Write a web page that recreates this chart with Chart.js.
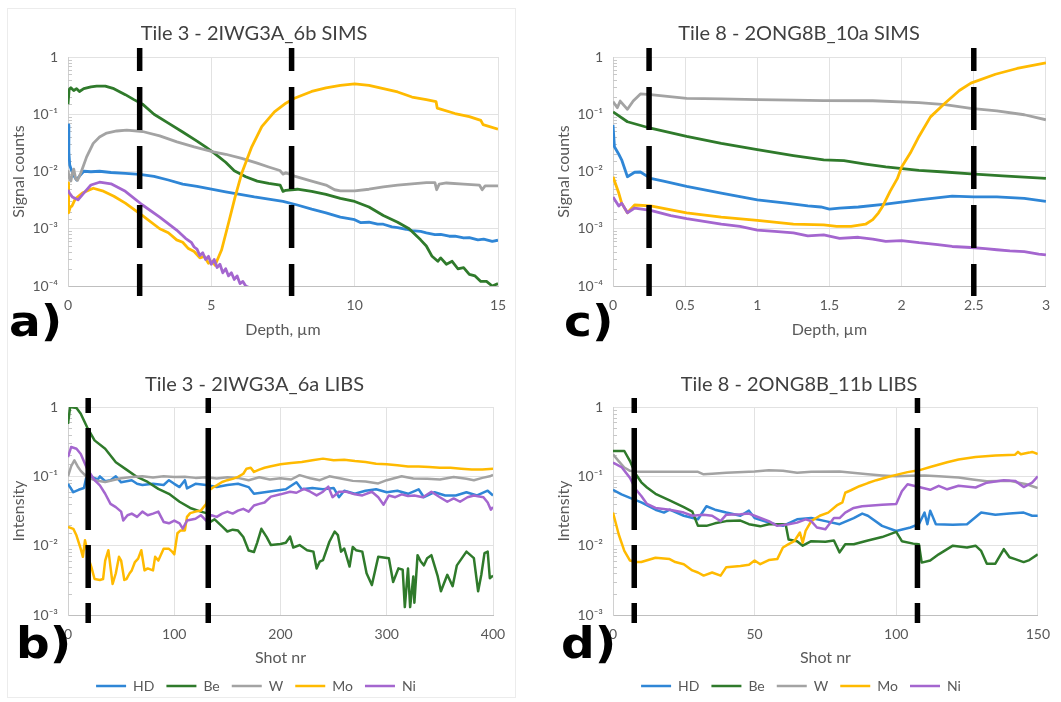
<!DOCTYPE html>
<html>
<head>
<meta charset="utf-8">
<script src="https://cdn.jsdelivr.net/npm/chart.js@4.4.1/dist/chart.umd.min.js"></script>
<style>
  html, body { margin: 0; padding: 0; background: #fff; }
  body { width: 1061px; height: 702px; position: relative; overflow: hidden; }
  .panel { position: absolute; }
  .frame { position: absolute; border: 1px solid #ececec; }
</style>
</head>
<body>
<div class="frame" style="left:7px;top:8px;width:507px;height:688px"></div>
<canvas id="pa" class="panel" width="520" height="350" style="left:0;top:0"></canvas>
<canvas id="pc" class="panel" width="531" height="350" style="left:530px;top:0"></canvas>
<canvas id="pb" class="panel" width="520" height="358" style="left:0;top:345px"></canvas>
<canvas id="pd" class="panel" width="531" height="358" style="left:530px;top:345px"></canvas>
<script>
// Series names and colours shared by all four panels
const elements = ['HD', 'Be', 'W', 'Mo', 'Ni'];
const lineColors = ['#2f86d6', '#2f7a2b', '#a3a3a3', '#ffba00', '#a466cf'];

// Tile 3 - SIMS depth profile: [depth µm, signal counts]
const simsT3_HD = [[0,0.065],[0.03,0.022],[0.06,0.013],[0.12,0.0105],[0.2,0.0085],[0.3,0.0071],[0.4,0.0083],[0.55,0.0101],[0.8,0.0099],[1.1,0.0101],[1.5,0.0096],[2,0.0093],[2.5,0.0089],[3,0.0082],[3.5,0.0071],[4,0.006],[4.5,0.0055],[5,0.0049],[5.5,0.0044],[6,0.004],[6.5,0.0036],[7,0.0033],[7.5,0.003],[8,0.0026],[8.5,0.0022],[9,0.0019],[9.5,0.0016],[9.8,0.0015],[10,0.00144],[10.2,0.00128],[10.5,0.0013],[10.8,0.0012],[11,0.0012],[11.3,0.00108],[11.5,0.00105],[11.8,0.00098],[12,0.00093],[12.3,0.0009],[12.5,0.00085],[12.8,0.00079],[13,0.0008],[13.3,0.00074],[13.5,0.00074],[13.8,0.00069],[14,0.0007],[14.3,0.00064],[14.5,0.00066],[14.8,0.0006],[15,0.00063]];
const simsT3_Be = [[0,0.15],[0.04,0.27],[0.1,0.29],[0.2,0.26],[0.3,0.28],[0.4,0.25],[0.55,0.28],[0.8,0.3],[1,0.31],[1.3,0.31],[1.6,0.28],[2,0.22],[2.3,0.18],[2.6,0.15],[3,0.1],[3.5,0.07],[4,0.049],[4.5,0.034],[4.8,0.027],[5.1,0.021],[5.5,0.0145],[5.8,0.0103],[6.2,0.0081],[6.6,0.0068],[7,0.0062],[7.4,0.0058],[7.5,0.0045],[7.6,0.0047],[8,0.0049],[8.5,0.0045],[9,0.004],[9.5,0.0034],[10,0.003],[10.5,0.0024],[11,0.0017],[11.5,0.0013],[11.9,0.001],[12.3,0.00064],[12.5,0.0005],[12.7,0.00033],[12.9,0.00027],[13,0.00031],[13.2,0.00024],[13.4,0.00027],[13.6,0.0002],[13.8,0.00021],[14,0.00016],[14.2,0.00015],[14.4,0.00012],[14.6,0.00012],[14.8,0.0001],[15,0.00011]];
const simsT3_W = [[0,0.0105],[0.04,0.0078],[0.1,0.0068],[0.16,0.0098],[0.2,0.011],[0.27,0.0074],[0.33,0.007],[0.45,0.0095],[0.65,0.018],[0.88,0.031],[1.1,0.04],[1.35,0.047],[1.7,0.051],[2.05,0.053],[2.6,0.05],[3.2,0.042],[3.8,0.033],[4.4,0.027],[5.07,0.022],[5.5,0.02],[6.06,0.017],[6.6,0.014],[7,0.012],[7.39,0.0104],[7.5,0.009],[7.6,0.0095],[7.9,0.0083],[8.5,0.0068],[9,0.0058],[9.3,0.0048],[9.5,0.0046],[10,0.0046],[10.5,0.0049],[11,0.0054],[11.5,0.0058],[12,0.0061],[12.5,0.0064],[12.8,0.0064],[12.86,0.0048],[12.95,0.006],[13.2,0.0063],[13.8,0.006],[14.35,0.0058],[14.45,0.0048],[14.55,0.0056],[15,0.0056]];
const simsT3_Mo = [[0,0.0063],[0.02,0.0019],[0.08,0.0024],[0.14,0.0025],[0.25,0.0033],[0.5,0.0042],[0.88,0.0051],[1.2,0.0046],[1.6,0.0037],[2,0.0028],[2.6,0.0017],[3.2,0.001],[3.5,0.00085],[3.79,0.00064],[4,0.00058],[4.2,0.00045],[4.4,0.0004],[4.6,0.00031],[4.75,0.00033],[4.9,0.00025],[5.05,0.00027],[5.13,0.00023],[5.36,0.00043],[5.6,0.00126],[5.83,0.0036],[6.06,0.0093],[6.41,0.027],[6.76,0.061],[7.2,0.11],[7.6,0.156],[7.9,0.19],[8.5,0.25],[9,0.29],[9.5,0.32],[10,0.34],[10.5,0.32],[11,0.28],[11.5,0.245],[12,0.2],[12.5,0.18],[12.84,0.166],[12.88,0.128],[13.5,0.103],[14,0.091],[14.4,0.078],[14.48,0.066],[15,0.055]];
const simsT3_Ni = [[0,0.0048],[0.05,0.0042],[0.15,0.0036],[0.35,0.0032],[0.55,0.0042],[0.8,0.0058],[1.1,0.0065],[1.5,0.0061],[2,0.0045],[2.6,0.0026],[3.2,0.0016],[3.79,0.00095],[4.1,0.00068],[4.3,0.00058],[4.4,0.00048],[4.5,0.00044],[4.6,0.00034],[4.7,0.00038],[4.8,0.00029],[4.9,0.00033],[5,0.00024],[5.1,0.00029],[5.2,0.00021],[5.3,0.00024],[5.4,0.00017],[5.5,0.0002],[5.6,0.00015],[5.7,0.00017],[5.8,0.00013],[5.9,0.00015],[6,0.00011],[6.1,0.00012],[6.2,0.0001],[6.4,0.00009]];
const simsT3_bounds = [2.5, 7.8];

// Tile 8 - SIMS depth profile: [depth µm, signal counts]
const simsT8_HD = [[0,0.065],[0.01,0.027],[0.04,0.02],[0.06,0.016],[0.1,0.0081],[0.15,0.0097],[0.19,0.0098],[0.26,0.0076],[0.35,0.0068],[0.51,0.0055],[0.75,0.0042],[1,0.0032],[1.2,0.0028],[1.35,0.0025],[1.44,0.0024],[1.5,0.0022],[1.57,0.0023],[1.7,0.0024],[1.89,0.0027],[2.12,0.0032],[2.35,0.0037],[2.5,0.0036],[2.66,0.0036],[2.85,0.0034],[3,0.003]];
const simsT8_Be = [[0,0.11],[0.1,0.074],[0.26,0.057],[0.51,0.041],[0.75,0.031],[1,0.024],[1.25,0.019],[1.46,0.016],[1.6,0.0155],[1.75,0.0135],[1.89,0.012],[2.12,0.0105],[2.3,0.0098],[2.48,0.0091],[2.7,0.0084],[3,0.0076]];
const simsT8_W = [[0,0.166],[0.03,0.13],[0.05,0.17],[0.1,0.122],[0.14,0.17],[0.19,0.226],[0.26,0.22],[0.51,0.19],[0.75,0.185],[1,0.18],[1.25,0.176],[1.46,0.173],[1.8,0.172],[2.12,0.16],[2.3,0.147],[2.48,0.127],[2.66,0.115],[2.85,0.098],[3,0.08]];
const simsT8_Mo = [[0,0.0081],[0.04,0.0042],[0.06,0.0028],[0.1,0.0019],[0.15,0.0026],[0.26,0.0025],[0.51,0.0019],[0.75,0.0016],[1,0.0014],[1.25,0.0012],[1.46,0.00117],[1.55,0.0011],[1.65,0.0011],[1.75,0.0012],[1.8,0.00144],[1.84,0.0019],[1.87,0.0025],[1.92,0.0045],[1.97,0.0075],[2,0.012],[2.06,0.021],[2.12,0.041],[2.2,0.09],[2.3,0.156],[2.4,0.26],[2.48,0.35],[2.65,0.5],[2.8,0.63],[3,0.79]];
const simsT8_Ni = [[0,0.0036],[0.04,0.0025],[0.06,0.0028],[0.1,0.0019],[0.15,0.0023],[0.26,0.0021],[0.4,0.0017],[0.51,0.0015],[0.63,0.00135],[0.75,0.0012],[0.88,0.0011],[1,0.00095],[1.12,0.0009],[1.25,0.00085],[1.35,0.00075],[1.46,0.00078],[1.57,0.00068],[1.7,0.00071],[1.8,0.00066],[1.89,0.0006],[2,0.00062],[2.12,0.00057],[2.25,0.00053],[2.35,0.00049],[2.48,0.00047],[2.58,0.00045],[2.66,0.00043],[2.75,0.00041],[2.85,0.0004],[2.95,0.00036],[3,0.00035]];
const simsT8_bounds = [0.25, 2.5];

// Tile 3 - LIBS: [shot number, intensity]
const libsT3_HD = [[0,0.078],[5,0.059],[10,0.064],[15,0.068],[18,0.11],[22,0.098],[28,0.09],[30,0.1],[35,0.085],[40,0.088],[45,0.1],[50,0.082],[60,0.088],[65,0.078],[70,0.075],[80,0.078],[90,0.075],[95,0.088],[100,0.078],[105,0.07],[110,0.088],[112,0.067],[120,0.078],[130,0.075],[140,0.07],[150,0.075],[160,0.078],[170,0.07],[175,0.056],[185,0.059],[195,0.062],[205,0.065],[215,0.082],[220,0.065],[230,0.068],[240,0.065],[250,0.068],[255,0.05],[260,0.062],[270,0.056],[280,0.062],[290,0.065],[300,0.059],[310,0.062],[320,0.056],[330,0.065],[335,0.05],[345,0.059],[355,0.053],[365,0.053],[375,0.059],[385,0.053],[395,0.062],[400,0.053]];
const libsT3_Be = [[0,0.57],[2,1.0],[8,0.97],[12,0.8],[18,0.51],[25,0.33],[35,0.25],[45,0.16],[55,0.125],[65,0.098],[75,0.083],[85,0.066],[95,0.056],[105,0.043],[115,0.035],[125,0.031],[132,0.029],[134,0.022],[138,0.024],[145,0.019],[150,0.016],[155,0.017],[160,0.0165],[165,0.0133],[170,0.0085],[175,0.0081],[178,0.011],[182,0.0175],[187,0.0133],[191,0.0102],[200,0.0106],[205,0.011],[209,0.0135],[212,0.0094],[218,0.0102],[225,0.0086],[231,0.0082],[234,0.0047],[237,0.0059],[240,0.0062],[246,0.0114],[251,0.016],[254,0.0142],[257,0.0082],[260,0.0091],[265,0.005],[268,0.0096],[271,0.0086],[277,0.0082],[281,0.004],[286,0.0027],[292,0.0069],[302,0.0066],[306,0.003],[311,0.0047],[315,0.0045],[317,0.0013],[320,0.0047],[322,0.0013],[325,0.0036],[326,0.0015],[329,0.0073],[332,0.0059],[335,0.0052],[338,0.0066],[342,0.0073],[348,0.0036],[351,0.0022],[357,0.0038],[362,0.0026],[366,0.0052],[375,0.0082],[382,0.0066],[386,0.0022],[389,0.0038],[392,0.0078],[395,0.0082],[397,0.0034],[400,0.0037]];
const libsT3_W = [[0,0.1],[3,0.14],[6,0.17],[9,0.14],[12,0.12],[18,0.097],[25,0.088],[35,0.083],[45,0.09],[50,0.094],[60,0.098],[70,0.1],[80,0.096],[90,0.1],[100,0.098],[110,0.099],[120,0.095],[130,0.097],[140,0.093],[150,0.097],[160,0.095],[170,0.088],[180,0.097],[190,0.09],[200,0.094],[210,0.09],[218,0.104],[228,0.094],[237,0.088],[246,0.1],[258,0.092],[268,0.086],[280,0.084],[292,0.079],[300,0.088],[314,0.1],[325,0.093],[338,0.092],[350,0.09],[363,0.098],[375,0.092],[382,0.088],[390,0.095],[397,0.1],[400,0.105]];
const libsT3_Mo = [[0,0.0186],[5,0.0175],[8,0.014],[12,0.009],[14,0.0069],[16,0.012],[18,0.0086],[20,0.0061],[22,0.0049],[25,0.0033],[30,0.0032],[33,0.0033],[35,0.0061],[38,0.0086],[40,0.0049],[42,0.0028],[45,0.004],[48,0.0069],[50,0.0061],[53,0.0032],[55,0.0033],[58,0.004],[60,0.0044],[63,0.0058],[66,0.0065],[69,0.0086],[72,0.0044],[75,0.0047],[80,0.0044],[82,0.0069],[85,0.0061],[90,0.009],[95,0.009],[98,0.0082],[100,0.0075],[103,0.0151],[106,0.0166],[110,0.0166],[112,0.026],[115,0.0295],[120,0.031],[125,0.032],[130,0.04],[133,0.063],[137,0.07],[140,0.074],[145,0.083],[150,0.088],[155,0.092],[160,0.098],[165,0.109],[168,0.129],[172,0.133],[175,0.116],[180,0.125],[185,0.133],[190,0.139],[200,0.149],[210,0.156],[220,0.161],[230,0.17],[240,0.18],[250,0.17],[260,0.174],[270,0.166],[280,0.161],[290,0.152],[300,0.149],[310,0.144],[320,0.139],[330,0.139],[340,0.136],[350,0.133],[360,0.133],[370,0.129],[380,0.125],[390,0.125],[400,0.129]];
const libsT3_Ni = [[0,0.19],[3,0.265],[8,0.25],[12,0.21],[18,0.129],[25,0.088],[30,0.074],[35,0.056],[40,0.04],[45,0.036],[50,0.031],[52,0.023],[56,0.0275],[60,0.029],[65,0.026],[70,0.031],[75,0.0275],[80,0.029],[85,0.031],[90,0.022],[95,0.021],[100,0.023],[105,0.021],[108,0.0176],[112,0.023],[120,0.0245],[125,0.0275],[130,0.023],[135,0.0275],[140,0.026],[145,0.029],[150,0.031],[155,0.029],[160,0.032],[165,0.034],[170,0.031],[175,0.038],[180,0.04],[185,0.042],[191,0.051],[200,0.055],[209,0.06],[215,0.058],[222,0.066],[228,0.06],[234,0.053],[240,0.06],[245,0.071],[249,0.05],[255,0.06],[262,0.06],[270,0.055],[277,0.053],[286,0.06],[292,0.05],[297,0.039],[302,0.053],[308,0.05],[314,0.055],[320,0.052],[326,0.053],[334,0.05],[342,0.06],[350,0.05],[357,0.043],[363,0.048],[369,0.043],[376,0.05],[382,0.053],[391,0.05],[395,0.042],[398,0.033],[400,0.036]];
const libsT3_bounds = [19, 132];

// Tile 8 - LIBS: [shot number, intensity]
const libsT8_HD = [[0,0.064],[3,0.055],[6,0.049],[10,0.042],[15,0.033],[18,0.03],[20,0.033],[25,0.027],[30,0.024],[33,0.037],[36,0.033],[40,0.03],[45,0.027],[48,0.032],[50,0.025],[55,0.0215],[60,0.0193],[65,0.024],[70,0.025],[75,0.0226],[80,0.0204],[85,0.025],[88,0.029],[90,0.027],[95,0.0193],[100,0.0163],[105,0.0183],[108,0.0204],[110,0.03],[111,0.0204],[112,0.032],[114,0.0204],[120,0.02],[125,0.0204],[130,0.03],[135,0.028],[140,0.029],[145,0.03],[148,0.027],[150,0.027]];
const libsT8_Be = [[0,0.232],[4,0.232],[6,0.166],[8,0.108],[10,0.082],[12,0.069],[15,0.056],[20,0.045],[25,0.036],[28,0.031],[30,0.0193],[33,0.0193],[36,0.021],[40,0.0226],[45,0.023],[48,0.0204],[52,0.019],[55,0.0204],[60,0.0204],[61,0.02],[62,0.0123],[65,0.0116],[67,0.01],[70,0.0116],[75,0.0114],[78,0.0119],[80,0.008],[82,0.0105],[85,0.0105],[90,0.0119],[95,0.0133],[100,0.0158],[102,0.0116],[106,0.0107],[108,0.0105],[109,0.0057],[112,0.0061],[115,0.0075],[120,0.01],[125,0.0094],[128,0.01],[130,0.0084],[132,0.0055],[135,0.0055],[138,0.0089],[140,0.0068],[142,0.0064],[145,0.0058],[147,0.0062],[150,0.0075]];
const libsT8_W = [[0,0.207],[2,0.166],[4,0.134],[6,0.12],[8,0.117],[10,0.116],[20,0.116],[30,0.116],[32,0.107],[35,0.109],[40,0.113],[50,0.117],[55,0.122],[60,0.12],[65,0.113],[70,0.116],[80,0.117],[90,0.107],[95,0.103],[100,0.1],[105,0.102],[110,0.103],[115,0.1],[122,0.096],[127,0.09],[132,0.085],[140,0.086],[146,0.077],[150,0.068]];
const libsT8_Mo = [[0,0.03],[2,0.0146],[4,0.0084],[6,0.0061],[8,0.0058],[10,0.0058],[15,0.0067],[20,0.0064],[22,0.0058],[25,0.0054],[28,0.0044],[30,0.0041],[32,0.0037],[35,0.0041],[38,0.0037],[40,0.0049],[45,0.0051],[48,0.0053],[50,0.0061],[52,0.0054],[55,0.0062],[58,0.0064],[60,0.0094],[62,0.0105],[64,0.0116],[66,0.0155],[67,0.011],[68,0.0163],[70,0.0226],[73,0.027],[76,0.03],[79,0.038],[81,0.042],[82,0.058],[84,0.063],[87,0.072],[90,0.08],[93,0.088],[97,0.098],[100,0.105],[104,0.115],[108,0.122],[112,0.136],[118,0.16],[122,0.175],[128,0.19],[135,0.2],[142,0.205],[143,0.225],[144,0.208],[147,0.22],[148,0.225],[150,0.21]];
const libsT8_Ni = [[0,0.158],[3,0.136],[6,0.095],[8,0.065],[10,0.052],[12,0.04],[15,0.035],[20,0.033],[25,0.03],[28,0.027],[32,0.028],[35,0.027],[38,0.0226],[40,0.028],[45,0.0285],[48,0.029],[50,0.027],[55,0.0226],[58,0.0193],[62,0.0204],[65,0.0215],[68,0.024],[70,0.0226],[72,0.0183],[75,0.0172],[78,0.025],[80,0.025],[82,0.03],[85,0.035],[88,0.037],[95,0.039],[100,0.04],[102,0.061],[104,0.077],[108,0.07],[112,0.064],[115,0.073],[118,0.065],[122,0.073],[128,0.069],[132,0.081],[138,0.088],[142,0.086],[145,0.07],[148,0.081],[150,0.1]];
const libsT8_bounds = [7.5, 107.5];

const FONT = 'Lato, "Open Sans", "DejaVu Sans", sans-serif';
const SUP = {'-': '\u207B', '0': '\u2070', '1': '\u00B9', '2': '\u00B2', '3': '\u00B3', '4': '\u2074', '5': '\u2075', '6': '\u2076', '7': '\u2077', '8': '\u2078', '9': '\u2079'};

function isDecade(v) {
  if (!(v > 0)) return false;
  const e = Math.log10(v);
  return Math.abs(e - Math.round(e)) < 1e-6;
}
function decadeLabel(v) {
  if (!isDecade(v)) return '';
  const r = Math.round(Math.log10(v));
  if (r === 0) return '1';
  return '10' + String(r).split('').map(c => SUP[c]).join('');
}

// Boundary markers, inner minor ticks, panel letters and box nudging
const panelDecor = {
  id: 'panelDecor',
  afterLayout(chart, args, o) {
    if (chart.titleBlock && o.titleShift) {
      chart.titleBlock.left += o.titleShift;
      chart.titleBlock.right += o.titleShift;
    }
    if (chart.legend && o.legendShift) {
      chart.legend.left += o.legendShift;
      chart.legend.right += o.legendShift;
    }
  },
  beforeDatasetsDraw(chart) {
    const y = chart.scales.y, area = chart.chartArea, ctx = chart.ctx;
    ctx.save();
    ctx.strokeStyle = '#c8c8c8';
    ctx.lineWidth = 1;
    y.ticks.forEach(t => {
      if (isDecade(t.value)) return;
      const py = Math.round(y.getPixelForValue(t.value)) + 0.5;
      ctx.beginPath();
      ctx.moveTo(area.left, py);
      ctx.lineTo(area.left + 4, py);
      ctx.stroke();
    });
    ctx.restore();
  },
  afterDatasetsDraw(chart, args, o) {
    const x = chart.scales.x, area = chart.chartArea, ctx = chart.ctx;
    ctx.save();
    ctx.strokeStyle = '#000';
    ctx.lineWidth = 5.5;
    ctx.lineCap = 'butt';
    ctx.setLineDash(o.dash);
    ctx.lineDashOffset = o.dashOffset || 0;
    o.bounds.forEach(b => {
      const px = x.getPixelForValue(b);
      ctx.beginPath();
      ctx.moveTo(px, area.top - o.above);
      ctx.lineTo(px, area.bottom + o.below);
      ctx.stroke();
    });
    ctx.restore();
  },
  afterDraw(chart, args, o) {
    const ctx = chart.ctx;
    ctx.save();
    ctx.font = 'bold 42px "DejaVu Sans", sans-serif';
    ctx.fillStyle = '#000';
    ctx.textBaseline = 'alphabetic';
    ctx.translate(o.letterX, o.letterY);
    ctx.scale(1.12, 1);
    ctx.fillText(o.letter, 0, 0);
    ctx.restore();
  }
};

function buildPanel(id, cfg) {
  const datasets = cfg.series.map((pts, i) => ({
    label: elements[i],
    data: pts.map(p => ({x: p[0], y: p[1]})),
    borderColor: lineColors[i],
    backgroundColor: lineColors[i],
    borderWidth: cfg.lineWidth,
    pointRadius: 0,
    tension: 0,
    fill: false,
    borderJoinStyle: 'round',
    order: elements.length - i
  }));
  return new Chart(document.getElementById(id), {
    type: 'line',
    data: {datasets},
    options: {
      responsive: false,
      animation: false,
      events: [],
      layout: {padding: cfg.padding},
      scales: {
        x: {
          type: 'linear', min: cfg.xMin, max: cfg.xMax,
          ticks: {stepSize: cfg.xStep, padding: 11, color: '#595959', maxRotation: 0,
                  font: {family: FONT, size: 14}, callback: v => String(v)},
          grid: {color: '#e2e2e2', drawTicks: false},
          border: {color: '#bfbfbf'},
          title: {display: true, text: cfg.xTitle, color: '#595959',
                  font: {family: FONT, size: 16}, padding: {top: 0, bottom: cfg.xTitlePad}},
          afterFit: s => { s.height = cfg.xHeight; }
        },
        y: {
          type: 'logarithmic', min: cfg.yMin, max: 1,
          ticks: {autoSkip: false, padding: 10, color: '#595959',
                  font: {family: FONT, size: 14}, callback: v => decadeLabel(v)},
          grid: {color: c => isDecade(c.tick && c.tick.value) ? '#e2e2e2' : 'rgba(0,0,0,0)', drawTicks: false},
          border: {color: '#d0d0d0'},
          title: {display: true, text: cfg.yTitle, color: '#595959',
                  font: {family: FONT, size: 16}, padding: {top: 5, bottom: 0}},
          afterFit: s => { s.width = 64; }
        }
      },
      plugins: {
        title: {display: true, text: cfg.title, color: '#404040',
                font: {family: FONT, size: 20, weight: 'normal'},
                padding: {top: cfg.titleTop, bottom: cfg.titleBottom}},
        legend: cfg.legend ? {
          display: true, position: 'bottom',
          labels: {usePointStyle: true, pointStyle: 'line', pointStyleWidth: 30, padding: 12,
                   color: '#595959', font: {family: FONT, size: 14},
                   sort: (a, b) => a.datasetIndex - b.datasetIndex}
        } : {display: false},
        tooltip: {enabled: false},
        panelDecor: cfg.decor
      }
    },
    plugins: [panelDecor]
  });
}

const topDash = {dash: [43, 16], dashOffset: 20, above: 9, below: 10};
const bottomDash = {dash: [15, 15, 102, 15, 43, 15, 40], dashOffset: 0, above: 9, below: 8};

buildPanel('pa', {
  title: 'Tile 3 - 2IWG3A_6b SIMS', xTitle: 'Depth, \u00B5m', yTitle: 'Signal counts',
  series: [simsT3_HD, simsT3_Be, simsT3_W, simsT3_Mo, simsT3_Ni], lineWidth: 2.8,
  xMin: 0, xMax: 15, xStep: 5, yMin: 1e-4,
  padding: {left: 4, right: 22, top: 0, bottom: 8},
  titleTop: 22, titleBottom: 11, xHeight: 56, xTitlePad: 2.4, legend: false,
  decor: Object.assign({bounds: simsT3_bounds, letter: 'a)', letterX: 9, letterY: 336, titleShift: 3}, topDash)
});
buildPanel('pc', {
  title: 'Tile 8 - 2ONG8B_10a SIMS', xTitle: 'Depth, \u00B5m', yTitle: 'Signal counts',
  series: [simsT8_HD, simsT8_Be, simsT8_W, simsT8_Mo, simsT8_Ni], lineWidth: 2.8,
  xMin: 0, xMax: 3, xStep: 0.5, yMin: 1e-4,
  padding: {left: 19, right: 15, top: 0, bottom: 8},
  titleTop: 22, titleBottom: 11, xHeight: 56, xTitlePad: 2.4, legend: false,
  decor: Object.assign({bounds: simsT8_bounds, letter: 'c)', letterX: 34, letterY: 336, titleShift: 1.5}, topDash)
});
buildPanel('pb', {
  title: 'Tile 3 - 2IWG3A_6a LIBS', xTitle: 'Shot nr', yTitle: 'Intensity',
  series: [libsT3_HD, libsT3_Be, libsT3_W, libsT3_Mo, libsT3_Ni], lineWidth: 2.5,
  xMin: 0, xMax: 400, xStep: 100, yMin: 1e-3,
  padding: {left: 4, right: 27, top: 0, bottom: 0},
  titleTop: 28, titleBottom: 10, xHeight: 52, xTitlePad: 0, legend: true,
  decor: Object.assign({bounds: libsT3_bounds, letter: 'b)', letterX: 16, letterY: 313, titleShift: 6, legendShift: 7.5}, bottomDash)
});
buildPanel('pd', {
  title: 'Tile 8 - 2ONG8B_11b LIBS', xTitle: 'Shot nr', yTitle: 'Intensity',
  series: [libsT8_HD, libsT8_Be, libsT8_W, libsT8_Mo, libsT8_Ni], lineWidth: 2.5,
  xMin: 0, xMax: 150, xStep: 50, yMin: 1e-3,
  padding: {left: 19, right: 22, top: 0, bottom: 0},
  titleTop: 28, titleBottom: 10, xHeight: 52, xTitlePad: 0, legend: true,
  decor: Object.assign({bounds: libsT8_bounds, letter: 'd)', letterX: 31, letterY: 313, titleShift: 5, legendShift: 7}, bottomDash)
});
</script>
</body>
</html>
